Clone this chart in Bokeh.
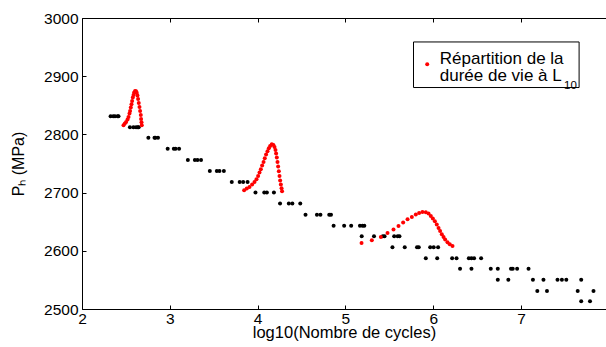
from bokeh.plotting import figure
from bokeh.models import BoxAnnotation, Label, LinearAxis, Range1d, FixedTicker
from bokeh.embed import file_html
from bokeh.resources import INLINE

# ---------------- data ----------------
stair_levels = [2832, 2813, 2795, 2776, 2757, 2738, 2719, 2701, 2682,
                2663, 2644, 2626, 2607, 2588, 2570, 2551, 2532, 2514]
stair_x = [
    [2.32, 2.35, 2.37, 2.40, 2.41],
    [2.54, 2.58, 2.61, 2.63, 2.64],
    [2.75, 2.82, 2.83, 2.86],
    [2.97, 3.04, 3.06, 3.10],
    [3.20, 3.28, 3.31, 3.35],
    [3.45, 3.53, 3.56, 3.61],
    [3.70, 3.79, 3.83, 3.88],
    [3.97, 4.07, 4.10, 4.18],
    [4.25, 4.35, 4.39, 4.48],
    [4.54, 4.67, 4.71, 4.81, 4.83],
    [4.86, 4.98, 5.06, 5.16, 5.19, 5.21],
    [5.18, 5.32, 5.42, 5.44, 5.55, 5.59, 5.61],
    [5.53, 5.67, 5.81, 5.83, 5.96, 6.00, 6.05],
    [5.91, 6.04, 6.21, 6.26, 6.40, 6.43, 6.46, 6.54],
    [6.30, 6.43, 6.65, 6.73, 6.88, 6.90, 6.95, 7.08],
    [6.73, 6.85, 7.13, 7.25, 7.41, 7.46, 7.51, 7.68],
    [7.18, 7.29, 7.64, 7.82],
    [7.68, 7.78],
]

dist1_x = [2.467, 2.482, 2.497, 2.513, 2.524, 2.535, 2.542, 2.550, 2.558, 2.565,
           2.573, 2.581, 2.588, 2.599, 2.610, 2.618, 2.626, 2.633, 2.641, 2.649,
           2.656, 2.664, 2.667, 2.672, 2.675]
dist1_p = [2816.6, 2819.6, 2822.3, 2826.4, 2830.9, 2836.7, 2841.2, 2847.0, 2852.7, 2858.4,
           2864.2, 2868.7, 2872.8, 2875.6, 2875.0, 2872.1, 2867.7, 2861.8, 2855.0, 2848.1,
           2841.2, 2834.3, 2827.5, 2821.8, 2816.6]

dist2_x = [3.841, 3.871, 3.902, 3.932, 3.959, 3.982, 4.000, 4.016, 4.031, 4.046,
           4.062, 4.076, 4.091, 4.107, 4.122, 4.137, 4.156, 4.175, 4.187, 4.198,
           4.205, 4.213, 4.221, 4.228, 4.236, 4.244, 4.251, 4.259, 4.267, 4.273]
dist2_p = [2705.0, 2707.9, 2710.6, 2714.8, 2719.2, 2723.9, 2729.5, 2735.4, 2741.0, 2747.4,
           2753.6, 2759.9, 2766.3, 2772.0, 2777.1, 2781.1, 2784.0, 2782.8, 2779.4, 2774.2,
           2768.0, 2761.1, 2753.6, 2745.7, 2737.6, 2729.5, 2721.6, 2714.8, 2708.4, 2703.2]

dist3_x = [5.178, 5.295, 5.398, 5.474, 5.542, 5.599, 5.652, 5.702, 5.751, 5.796,
           5.834, 5.872, 5.910, 5.941, 5.967, 5.990, 6.013, 6.035, 6.055, 6.073,
           6.092, 6.112, 6.130, 6.157, 6.183, 6.214]
dist3_p = [2614.4, 2619.1, 2624.7, 2631.6, 2637.4, 2643.6, 2649.5, 2655.1, 2659.1, 2663.2,
           2666.0, 2667.7, 2667.2, 2664.9, 2660.8, 2656.3, 2651.7, 2646.0, 2640.2, 2635.0,
           2629.4, 2624.7, 2620.3, 2615.6, 2612.2, 2609.3]

x_ticks = [2, 3, 4, 5, 6, 7, 8]
y_ticks = [2500, 2600, 2700, 2800, 2900, 3000]
x_label = "log10(Nombre de cycles)"
y_label = "P\u2095 (MPa)"
legend_lines = ["Répartition de la", "durée de vie à L"]
legend_sub = "10"

# ---------------- figure ----------------
FONT = "Liberation Sans"
p = figure(width=606, height=347, x_range=Range1d(2, 7.968), y_range=Range1d(2500, 3000),
           output_backend="svg", toolbar_location=None,
           min_border_left=82, min_border_right=0, min_border_top=18, min_border_bottom=38)
p.outline_line_color = None
p.xgrid.visible = False
p.ygrid.visible = False
p.background_fill_color = "white"
p.border_fill_color = "white"

for ax, ticks in ((p.xaxis[0], x_ticks), (p.yaxis[0], y_ticks)):
    ax.ticker = FixedTicker(ticks=ticks)
    ax.major_tick_in = 4
    ax.major_tick_out = 0
    ax.minor_tick_line_color = None
    ax.axis_line_color = "black"
    ax.major_tick_line_color = "black"
    ax.major_label_text_font = FONT
    ax.major_label_text_font_size = "15.5px"
    ax.major_label_text_color = "black"
    ax.major_label_standoff = 4
    ax.axis_label_text_font = FONT
    ax.axis_label_text_font_style = "normal"
    ax.axis_label_text_color = "black"

p.xaxis[0].axis_label = x_label
p.xaxis[0].axis_label_text_font_size = "16.5px"
p.xaxis[0].axis_label_standoff = -4
p.yaxis[0].axis_label = y_label
p.yaxis[0].axis_label_text_font_size = "16px"
p.yaxis[0].axis_label_standoff = 14

top = LinearAxis(ticker=FixedTicker(ticks=x_ticks), major_tick_in=4, major_tick_out=0,
                 minor_tick_line_color=None, major_label_overrides={t: "" for t in x_ticks},
                 major_label_standoff=0, axis_line_color="black", major_tick_line_color="black")
p.add_layout(top, "above")

# black stair points
bx, by = [], []
for lvl, xs in zip(stair_levels, stair_x):
    bx.extend(xs)
    by.extend([lvl] * len(xs))
p.scatter(bx, by, size=4, color="black", line_color=None)

# red distributions
for dx, dp in ((dist1_x, dist1_p), (dist2_x, dist2_p), (dist3_x, dist3_p)):
    p.scatter(dx, dp, size=4, color="red", line_color=None)

# legend box (manual, to allow subscript)
leg_left, leg_right, leg_top, leg_bottom = 5.770, 7.656, 2959.7, 2881.4
p.add_layout(BoxAnnotation(left=leg_left, right=leg_right, top=leg_top, bottom=leg_bottom,
                           fill_color="white", fill_alpha=1.0, line_color="black",
                           line_width=1, line_alpha=1.0, level="underlay"))
p.scatter([leg_left + 0.156], [leg_bottom + 40.0], size=4, color="red", line_color=None)
p.add_layout(Label(x=leg_left + 0.299, y=leg_top - 28.5, text=legend_lines[0],
                   text_baseline="alphabetic", text_font=FONT, text_font_size="17px",
                   text_color="black"))
p.add_layout(Label(x=leg_left + 0.299, y=leg_top - 57.2, text=legend_lines[1],
                   text_baseline="alphabetic", text_font=FONT, text_font_size="17px",
                   text_color="black"))
p.add_layout(Label(x=leg_left + 1.714, y=leg_top - 74.4, text=legend_sub,
                   text_baseline="alphabetic", text_font=FONT, text_font_size="11.5px",
                   text_color="black"))

open("out.html", "w").write(file_html(p, INLINE))
